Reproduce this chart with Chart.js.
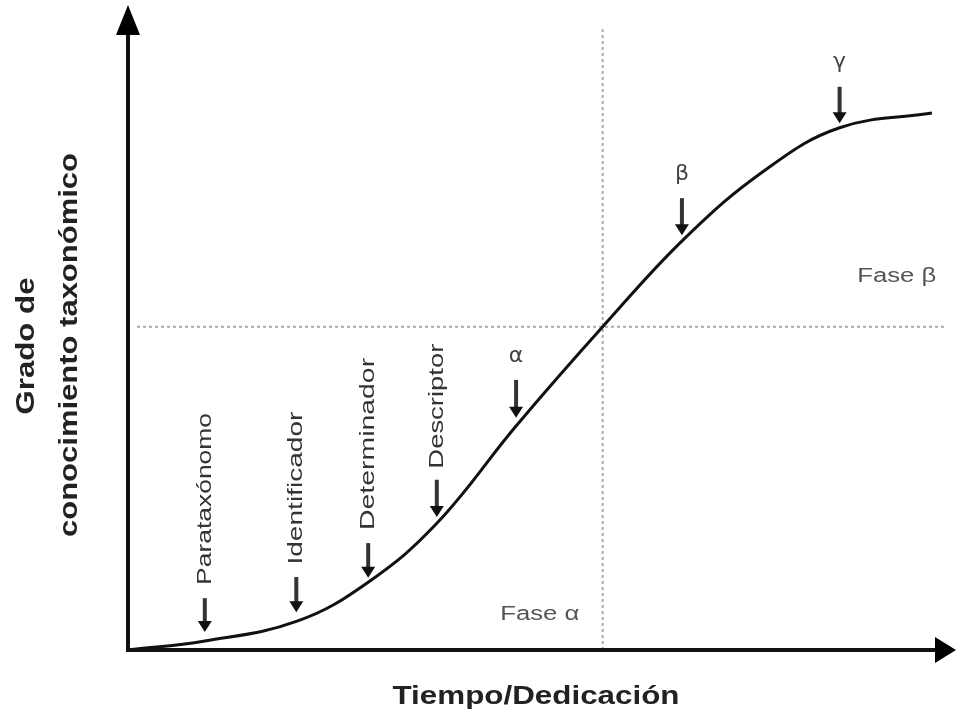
<!DOCTYPE html>
<html>
<head>
<meta charset="utf-8">
<script src="https://cdn.jsdelivr.net/npm/chart.js@4"></script>
<style>
  html, body { margin: 0; padding: 0; background: #fff; }
  #wrap { width: 960px; height: 715px; }
</style>
</head>
<body>
<div id="wrap"><canvas id="chart" width="960" height="715"></canvas></div>
<script>
// curva de aprendizaje (tiempo vs grado de conocimiento), escala 0-100
const curveX = [0, 9.4, 20.7, 29.4, 37.8, 47.5, 58.1, 68.2, 78.0, 87.1, 98.4];
const curveY = [0, 1.4, 4.5, 10.6, 19.8, 35.0, 50.5, 64.4, 75.0, 81.6, 83.9];

// roles (etiquetas verticales con flecha)
const roleLabels = ['Parataxónomo', 'Identificador', 'Determinador', 'Descriptor'];
const roleX = [9.4, 20.6, 29.4, 37.8];
const roleLabelY = [23.6, 25.3, 32.2, 38.1];
const roleArrowFrom = [8.1, 11.4, 16.7, 26.6];
const roleArrowTo = [2.8, 5.9, 11.3, 20.8];

// puntos alfa, beta, gamma
const greekLabels = ['α', 'β', 'γ'];
const greekX = [47.5, 67.8, 87.1];
const greekLabelY = [45.9, 74.4, 91.9];
const greekArrowFrom = [42.2, 70.6, 88.0];
const greekArrowTo = [36.3, 64.8, 82.3];

// fases
const phaseLabels = ['Fase α', 'Fase β'];
const phaseX = [50.4, 94.1];
const phaseY = [5.5, 58.4];

// limites entre fases
const splitX = 58.1;
const splitY = 50.5;

const xTitle = 'Tiempo/Dedicación';
const yTitle = ['Grado de', 'conocimiento taxonómico'];

const roleWidths = [172, 153, 172, 125];

function stretchText(ctx, text, cx, cy, angle, width) {
    ctx.save();
    ctx.translate(cx, cy);
    ctx.rotate(angle);
    const w = ctx.measureText(text).width;
    ctx.scale(width / w, 1);
    ctx.textAlign = 'center';
    ctx.textBaseline = 'middle';
    ctx.fillText(text, 0, 0);
    ctx.restore();
}

function downArrow(ctx, x, y1, y2) {
    ctx.save();
    ctx.strokeStyle = '#333';
    ctx.lineWidth = 4;
    ctx.beginPath();
    ctx.moveTo(x, y1);
    ctx.lineTo(x, y2 - 9);
    ctx.stroke();
    ctx.fillStyle = '#111';
    ctx.beginPath();
    ctx.moveTo(x - 7, y2 - 11);
    ctx.lineTo(x + 7, y2 - 11);
    ctx.lineTo(x, y2);
    ctx.closePath();
    ctx.fill();
    ctx.restore();
}

const diagramPlugin = {
    id: 'diagram',
    afterDraw(c) {
        const ctx = c.ctx;
        const xs = c.scales.x;
        const ys = c.scales.y;
        const area = c.chartArea;

        // ejes con flecha
        ctx.save();
        ctx.strokeStyle = '#111';
        ctx.lineWidth = 4;
        ctx.beginPath();
        ctx.moveTo(area.left, area.top + 20);
        ctx.lineTo(area.left, area.bottom);
        ctx.lineTo(area.right - 5, area.bottom);
        ctx.stroke();
        ctx.fillStyle = '#000';
        ctx.beginPath();
        ctx.moveTo(area.left, area.top - 5);
        ctx.lineTo(area.left - 12, area.top + 25);
        ctx.lineTo(area.left + 12, area.top + 25);
        ctx.closePath();
        ctx.fill();
        ctx.beginPath();
        ctx.moveTo(area.right + 11, area.bottom);
        ctx.lineTo(area.right - 10, area.bottom - 13);
        ctx.lineTo(area.right - 10, area.bottom + 13);
        ctx.closePath();
        ctx.fill();
        ctx.restore();

        ctx.save();
        ctx.fillStyle = '#333';
        ctx.font = '21px "Liberation Sans Narrow", "Liberation Sans", Arial, sans-serif';
        roleLabels.forEach((t, i) => {
            const px = xs.getPixelForValue(roleX[i]);
            stretchText(ctx, t, px, ys.getPixelForValue(roleLabelY[i]), -Math.PI / 2, roleWidths[i]);
            downArrow(ctx, px, ys.getPixelForValue(roleArrowFrom[i]), ys.getPixelForValue(roleArrowTo[i]));
        });

        ctx.fillStyle = '#444';
        ctx.font = '22px "DejaVu Sans", sans-serif';
        greekLabels.forEach((t, i) => {
            const px = xs.getPixelForValue(greekX[i]);
            ctx.textAlign = 'center';
            ctx.textBaseline = 'middle';
            ctx.fillText(t, px, ys.getPixelForValue(greekLabelY[i]));
            downArrow(ctx, px, ys.getPixelForValue(greekArrowFrom[i]), ys.getPixelForValue(greekArrowTo[i]));
        });

        ctx.fillStyle = '#555';
        ctx.font = '20px "Liberation Sans Narrow", "Liberation Sans", Arial, sans-serif';
        phaseLabels.forEach((t, i) => {
            stretchText(ctx, t, xs.getPixelForValue(phaseX[i]), ys.getPixelForValue(phaseY[i]), 0, 79);
        });

        // titulos de ejes
        ctx.fillStyle = '#222';
        ctx.font = 'bold 26px "Liberation Sans", Arial, sans-serif';
        stretchText(ctx, xTitle, 536, 697, 0, 287);
        ctx.font = 'bold 25px "Liberation Sans", Arial, sans-serif';
        stretchText(ctx, yTitle[0], 27, 346, -Math.PI / 2, 137);
        stretchText(ctx, yTitle[1], 70, 345, -Math.PI / 2, 384);
        ctx.restore();
    }
};

const chart = new Chart(document.getElementById('chart'), {
    type: 'line',
    data: {
        datasets: [
            {
                data: curveX.map((x, i) => ({ x: x, y: curveY[i] })),
                borderColor: '#111',
                borderWidth: 3,
                pointRadius: 0,
                tension: 0.4,
                fill: false
            },
            {
                data: [{ x: splitX, y: 0 }, { x: splitX, y: 97 }],
                borderColor: '#aaa',
                borderWidth: 2,
                borderDash: [3, 3],
                pointRadius: 0
            },
            {
                data: [{ x: 1.1, y: splitY }, { x: 100, y: splitY }],
                borderColor: '#aaa',
                borderWidth: 2,
                borderDash: [3, 3],
                pointRadius: 0
            }
        ]
    },
    options: {
        responsive: false,
        animation: false,
        layout: { padding: { left: 128, right: 15, top: 10, bottom: 65 } },
        plugins: { legend: { display: false }, tooltip: { enabled: false } },
        scales: {
            x: { type: 'linear', min: 0, max: 100, display: false },
            y: { type: 'linear', min: 0, max: 100, display: false }
        }
    },
    plugins: [diagramPlugin]
});
</script>
</body>
</html>
